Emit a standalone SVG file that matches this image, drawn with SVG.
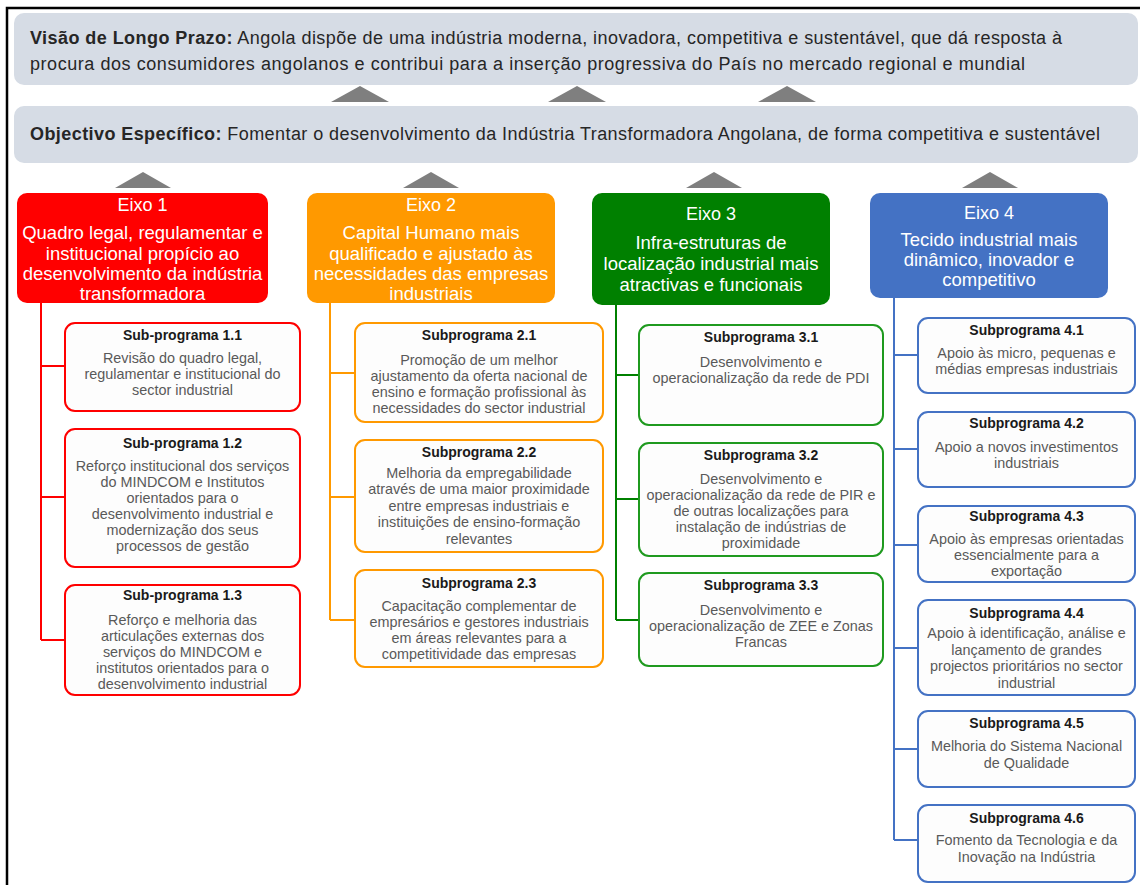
<svg xmlns="http://www.w3.org/2000/svg" width="1140" height="885" viewBox="0 0 1140 885">
<style>
text{font-family:"Liberation Sans",Arial,sans-serif}
.top{font-size:18px;fill:#262626}
.b{font-weight:bold}
.ex{font-size:18.5px;fill:#fff;text-anchor:middle}
.eh{font-size:18px}
.st{font-size:14px;font-weight:bold;fill:#1a1a1a;text-anchor:middle}
.sb{font-size:14.4px;fill:#595959;text-anchor:middle}
.sub{fill:#fdfdfd;stroke-width:2}
.tri{fill:#7f7f7f}
.c{fill:none;stroke-width:2}
</style>
<rect width="1140" height="885" fill="#fff"/>
<path d="M7,885 V8 H1140" fill="none" stroke="#000" stroke-width="2.5"/>

<g id="visao">
<rect x="14" y="13" width="1124" height="72" rx="10" fill="#d6dce5"/>
<text class="top" x="30" y="44" textLength="1032"><tspan class="b">Visão de Longo Prazo:</tspan> Angola dispõe de uma indústria moderna, inovadora, competitiva e sustentável, que dá resposta à</text>
<text class="top" x="30" y="70" textLength="995">procura dos consumidores angolanos e contribui para a inserção progressiva do País no mercado regional e mundial</text>
</g>
<g id="objectivo">
<rect x="14" y="106" width="1124" height="57" rx="10" fill="#d6dce5"/>
<text class="top" x="30" y="140" textLength="1070"><tspan class="b">Objectivo Específico:</tspan> Fomentar o desenvolvimento da Indústria Transformadora Angolana, de forma competitiva e sustentável</text>
</g>

<g id="arrows">
<polygon class="tri" points="331,102 360,86 389,102"/>
<polygon class="tri" points="548,102 577,86 606,102"/>
<polygon class="tri" points="758,102 787,86 816,102"/>
<polygon class="tri" points="115,188 143,172 171,188"/>
<polygon class="tri" points="403,188 431,172 459,188"/>
<polygon class="tri" points="686,188 714,172 742,188"/>
<polygon class="tri" points="962,188 990,172 1018,188"/>
</g>

<g id="connectors">
<path class="c" stroke="#ff0000" d="M41,303 V640 M41,366 H65 M41,497 H65 M41,640 H65"/>
<path class="c" stroke="#ff9900" d="M330,303 V620 M330,373 H355 M330,497 H355 M330,620 H355"/>
<path class="c" stroke="#008000" d="M616,305 V620 M616,375 H639 M616,499 H639 M616,620 H639"/>
<path class="c" stroke="#4472c4" d="M894,298 V840 M894,355 H918 M894,449 H918 M894,545 H918 M894,648 H918 M894,749 H918 M894,840 H918"/>
</g>

<g id="eixo1">
<rect x="17" y="193" width="251" height="110" rx="10" fill="#ff0000"/>
<text class="ex eh" x="142.5" y="211">Eixo 1</text>
<text class="ex" x="142.5" y="239">Quadro legal, regulamentar e</text>
<text class="ex" x="142.5" y="260">institucional propício ao</text>
<text class="ex" x="142.5" y="280">desenvolvimento da indústria</text>
<text class="ex" x="142.5" y="300">transformadora</text>
</g>
<g id="eixo2">
<rect x="307" y="193" width="248" height="110" rx="10" fill="#ff9900"/>
<text class="ex eh" x="431" y="211">Eixo 2</text>
<text class="ex" x="431" y="239">Capital Humano mais</text>
<text class="ex" x="431" y="260">qualificado e ajustado às</text>
<text class="ex" x="431" y="280">necessidades das empresas</text>
<text class="ex" x="431" y="300">industriais</text>
</g>
<g id="eixo3">
<rect x="592" y="193" width="238" height="112" rx="10" fill="#008000"/>
<text class="ex eh" x="711" y="220">Eixo 3</text>
<text class="ex" x="711" y="249">Infra-estruturas de</text>
<text class="ex" x="711" y="270">localização industrial mais</text>
<text class="ex" x="711" y="291">atractivas e funcionais</text>
</g>
<g id="eixo4">
<rect x="870" y="193" width="238" height="105" rx="10" fill="#4472c4"/>
<text class="ex eh" x="989" y="219">Eixo 4</text>
<text class="ex" x="989" y="246">Tecido industrial mais</text>
<text class="ex" x="989" y="266">dinâmico, inovador e</text>
<text class="ex" x="989" y="286">competitivo</text>
</g>

<g id="sp1-1">
<rect class="sub" x="65" y="323" width="235" height="88" rx="10" stroke="#ff0000"/>
<text class="st" x="182.5" y="340">Sub-programa 1.1</text>
<text class="sb" x="182.5" y="363">Revisão do quadro legal,</text>
<text class="sb" x="182.5" y="379">regulamentar e institucional do</text>
<text class="sb" x="182.5" y="395">sector industrial</text>
</g>
<g id="sp1-2">
<rect class="sub" x="65" y="429" width="235" height="138" rx="10" stroke="#ff0000"/>
<text class="st" x="182.5" y="448">Sub-programa 1.2</text>
<text class="sb" x="182.5" y="471">Reforço institucional dos serviços</text>
<text class="sb" x="182.5" y="487">do MINDCOM e Institutos</text>
<text class="sb" x="182.5" y="503">orientados para o</text>
<text class="sb" x="182.5" y="519">desenvolvimento industrial e</text>
<text class="sb" x="182.5" y="535">modernização dos seus</text>
<text class="sb" x="182.5" y="551">processos de gestão</text>
</g>
<g id="sp1-3">
<rect class="sub" x="65" y="585" width="235" height="110" rx="10" stroke="#ff0000"/>
<text class="st" x="182.5" y="600">Sub-programa 1.3</text>
<text class="sb" x="182.5" y="625">Reforço e melhoria das</text>
<text class="sb" x="182.5" y="641">articulações externas dos</text>
<text class="sb" x="182.5" y="657">serviços do MINDCOM e</text>
<text class="sb" x="182.5" y="673">institutos orientados para o</text>
<text class="sb" x="182.5" y="689">desenvolvimento industrial</text>
</g>

<g id="sp2-1">
<rect class="sub" x="355" y="323" width="248" height="99" rx="10" stroke="#ff9900"/>
<text class="st" x="479" y="340">Subprograma 2.1</text>
<text class="sb" x="479" y="365">Promoção de um melhor</text>
<text class="sb" x="479" y="381">ajustamento da oferta nacional de</text>
<text class="sb" x="479" y="397">ensino e formação profissional às</text>
<text class="sb" x="479" y="413">necessidades do sector industrial</text>
</g>
<g id="sp2-2">
<rect class="sub" x="355" y="440" width="248" height="112" rx="10" stroke="#ff9900"/>
<text class="st" x="479" y="457">Subprograma 2.2</text>
<text class="sb" x="479" y="478">Melhoria da empregabilidade</text>
<text class="sb" x="479" y="494">através de uma maior proximidade</text>
<text class="sb" x="479" y="511">entre empresas industriais e</text>
<text class="sb" x="479" y="527">instituições de ensino-formação</text>
<text class="sb" x="479" y="544">relevantes</text>
</g>
<g id="sp2-3">
<rect class="sub" x="355" y="570" width="248" height="97" rx="10" stroke="#ff9900"/>
<text class="st" x="479" y="588">Subprograma 2.3</text>
<text class="sb" x="479" y="611">Capacitação complementar de</text>
<text class="sb" x="479" y="627">empresários e gestores industriais</text>
<text class="sb" x="479" y="643">em áreas relevantes para a</text>
<text class="sb" x="479" y="659">competitividade das empresas</text>
</g>

<g id="sp3-1">
<rect class="sub" x="639" y="325" width="244" height="100" rx="10" stroke="#1f9a1f"/>
<text class="st" x="761" y="342">Subprograma 3.1</text>
<text class="sb" x="761" y="367">Desenvolvimento e</text>
<text class="sb" x="761" y="383">operacionalização da rede de PDI</text>
</g>
<g id="sp3-2">
<rect class="sub" x="639" y="443" width="244" height="113" rx="10" stroke="#1f9a1f"/>
<text class="st" x="761" y="460">Subprograma 3.2</text>
<text class="sb" x="761" y="484">Desenvolvimento e</text>
<text class="sb" x="761" y="500">operacionalização da rede de PIR e</text>
<text class="sb" x="761" y="516">de outras localizações para</text>
<text class="sb" x="761" y="532">instalação de indústrias de</text>
<text class="sb" x="761" y="548">proximidade</text>
</g>
<g id="sp3-3">
<rect class="sub" x="639" y="573" width="244" height="93" rx="10" stroke="#1f9a1f"/>
<text class="st" x="761" y="590">Subprograma 3.3</text>
<text class="sb" x="761" y="615">Desenvolvimento e</text>
<text class="sb" x="761" y="631">operacionalização de ZEE e Zonas</text>
<text class="sb" x="761" y="647">Francas</text>
</g>

<g id="sp4-1">
<rect class="sub" x="918" y="318" width="217" height="75" rx="10" stroke="#4472c4"/>
<text class="st" x="1026.5" y="335">Subprograma 4.1</text>
<text class="sb" x="1026.5" y="358">Apoio às micro, pequenas e</text>
<text class="sb" x="1026.5" y="374">médias empresas industriais</text>
</g>
<g id="sp4-2">
<rect class="sub" x="918" y="412" width="217" height="75" rx="10" stroke="#4472c4"/>
<text class="st" x="1026.5" y="428">Subprograma 4.2</text>
<text class="sb" x="1026.5" y="452">Apoio a novos investimentos</text>
<text class="sb" x="1026.5" y="468">industriais</text>
</g>
<g id="sp4-3">
<rect class="sub" x="918" y="506" width="217" height="76" rx="10" stroke="#4472c4"/>
<text class="st" x="1026.5" y="521">Subprograma 4.3</text>
<text class="sb" x="1026.5" y="544">Apoio às empresas orientadas</text>
<text class="sb" x="1026.5" y="560">essencialmente para a</text>
<text class="sb" x="1026.5" y="576">exportação</text>
</g>
<g id="sp4-4">
<rect class="sub" x="918" y="600" width="217" height="95" rx="10" stroke="#4472c4"/>
<text class="st" x="1026.5" y="618">Subprograma 4.4</text>
<text class="sb" x="1026.5" y="638">Apoio à identificação, análise e</text>
<text class="sb" x="1026.5" y="655">lançamento de grandes</text>
<text class="sb" x="1026.5" y="671">projectos prioritários no sector</text>
<text class="sb" x="1026.5" y="688">industrial</text>
</g>
<g id="sp4-5">
<rect class="sub" x="918" y="711" width="217" height="76" rx="10" stroke="#4472c4"/>
<text class="st" x="1026.5" y="728">Subprograma 4.5</text>
<text class="sb" x="1026.5" y="751">Melhoria do Sistema Nacional</text>
<text class="sb" x="1026.5" y="768">de Qualidade</text>
</g>
<g id="sp4-6">
<rect class="sub" x="918" y="805" width="217" height="77" rx="10" stroke="#4472c4"/>
<text class="st" x="1026.5" y="823">Subprograma 4.6</text>
<text class="sb" x="1026.5" y="845">Fomento da Tecnologia e da</text>
<text class="sb" x="1026.5" y="862">Inovação na Indústria</text>
</g>
</svg>
